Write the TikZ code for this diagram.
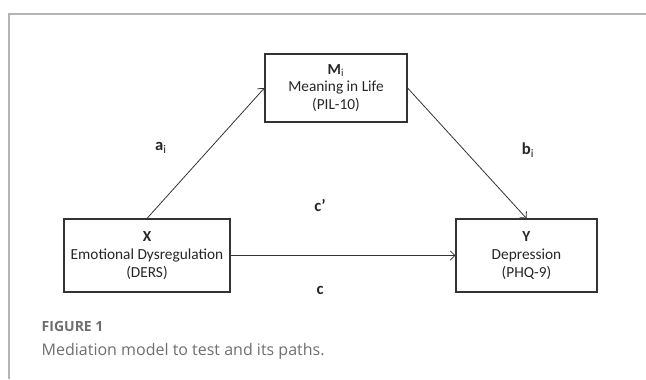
\documentclass[tikz,border=0pt]{standalone}
\usepackage{fontspec}
\setmainfont{Carlito}
\newfontfamily\capfont{Open Sans}
\usetikzlibrary{arrows.meta}
\definecolor{framegray}{HTML}{B4B4B4}
\definecolor{capgray}{HTML}{6E6E6E}
\definecolor{linegray}{HTML}{333333}

\begin{document}
\begin{tikzpicture}[x=0.75pt, y=-0.75pt,
	varbox/.style={rectangle, draw=linegray, line width=0.9pt, align=center, inner sep=0pt, text=black!85, font=\fontsize{11.5}{13.2}\selectfont},
	effect/.style={draw=linegray, line width=0.6pt, -{Straight Barb[length=3.5pt,width=7pt]}},
	lab/.style={text=black!85, font=\fontsize{12.5}{14}\selectfont}]

	\useasboundingbox (0,0) rectangle (646,379);
	\draw[framegray, line width=1.4pt] (9,379) -- (9,14) -- (646,14);

	\node[varbox, minimum width=106.5pt, minimum height=51pt] (m) at (336,88) {\textbf{M}\textsubscript{i}\\Meaning in Life\\(PIL-10)};
	\node[varbox, minimum width=124.5pt, minimum height=54.75pt] (x) at (147,255.5) {\textbf{X}\\Emotional Dysregulation\\(DERS)};
	\node[varbox, minimum width=105.75pt, minimum height=54.75pt] (y) at (526.5,255.5) {\textbf{Y}\\Depression\\(PHQ-9)};

	\node[lab] (a) at (161,148) {\textbf{a}\textsubscript{i}};
	\node[lab] (b) at (528,150) {\textbf{b}\textsubscript{i}};
	\node[lab] (cp) at (320,205) {\textbf{c'}};
	\node[lab] (c) at (320,290) {\textbf{c}};

	\draw[effect] (x.north) -- (m.west);
	\draw[effect] (m.east) -- (y.north);
	\draw[effect] (x) -- (y);

	\node[anchor=west, capgray, font=\capfont\bfseries\fontsize{10.5}{12}\selectfont] (fig) at (37,326) {FIGURE 1};
	\node[anchor=west, capgray, font=\capfont\fontsize{12}{14}\selectfont] (cap) at (37,351) {Mediation model to test and its paths.};
\end{tikzpicture}
\end{document}
